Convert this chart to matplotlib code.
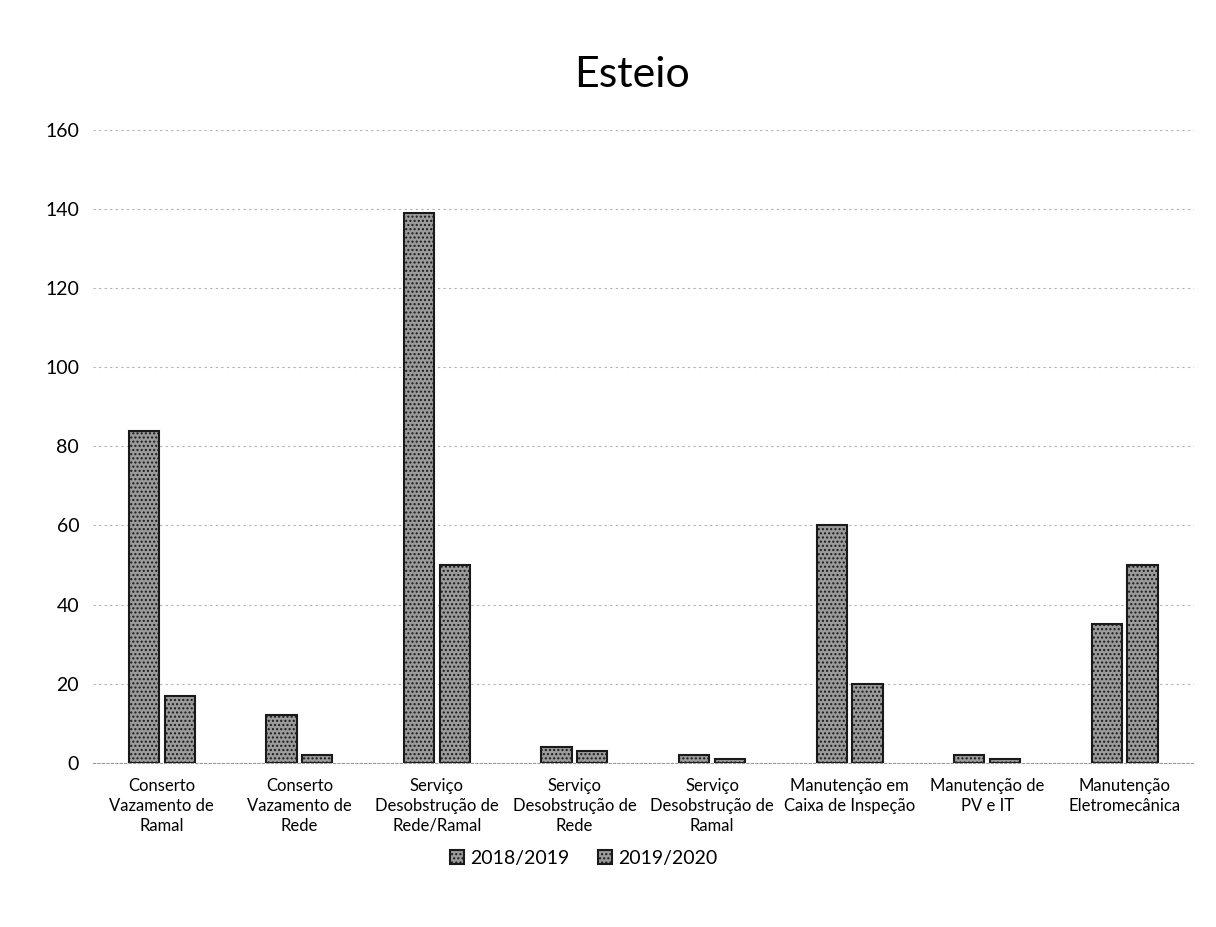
import numpy as np
from matplotlib import pyplot as plt

# dados
categorias = ["Conserto\nVazamento de\nRamal", "Conserto\nVazamento de\nRede",
              "Serviço\nDesobstrução de\nRede/Ramal", "Serviço\nDesobstrução de\nRede",
              "Serviço\nDesobstrução de\nRamal", "Manutenção em\nCaixa de Inspeção",
              "Manutenção de\nPV e IT", "Manutenção\nEletromecânica"]
ano_2018_2019 = [84, 12, 139, 4, 2, 60, 2, 35]
ano_2019_2020 = [17, 2, 50, 3, 1, 20, 1, 50]
series = ["2018/2019", "2019/2020"]

plt.rcParams['font.family'] = ['Lato', 'DejaVu Sans']

fig = plt.figure(figsize=(12.16, 9.27), dpi=100)
ax = fig.add_axes([0.0765, 0.177, 0.905, 0.683])

x = np.arange(len(categorias))
w = 0.22
ax.bar(x - w/2 - 0.02, ano_2018_2019, w, color='#9b9b9b', edgecolor='#1a1a1a',
       linewidth=1.5, hatch='....', label=series[0])
ax.bar(x + w/2 + 0.02, ano_2019_2020, w, color='#9b9b9b', edgecolor='#1a1a1a',
       linewidth=1.5, hatch='....', label=series[1])

ax.set_ylim(0, 160)
ax.set_yticks(range(0, 161, 20))
ax.set_xlim(-0.5, len(categorias) - 0.5)
ax.set_xticks(x)
ax.set_xticklabels(categorias, fontsize=12, linespacing=1.3)
ax.tick_params(axis='y', labelsize=14, length=0, pad=10)
ax.tick_params(axis='x', length=0, pad=11)
ax.grid(axis='y', color='#b0b0b0', linestyle=(0, (2, 3)), linewidth=0.8)
ax.set_axisbelow(True)
for s in ['top', 'right', 'left']:
    ax.spines[s].set_visible(False)
ax.spines['bottom'].set_color('#9a9a9a')
ax.spines['bottom'].set_linestyle((0, (2, 2)))

fig.suptitle("Esteio", fontsize=31, y=0.94, x=0.52)
fig.legend(loc='center', bbox_to_anchor=(0.48, 0.074), ncol=2, frameon=False,
           fontsize=14, handlelength=0.7, handleheight=0.7, columnspacing=1.5,
           handletextpad=0.3)

plt.savefig("out.png")
